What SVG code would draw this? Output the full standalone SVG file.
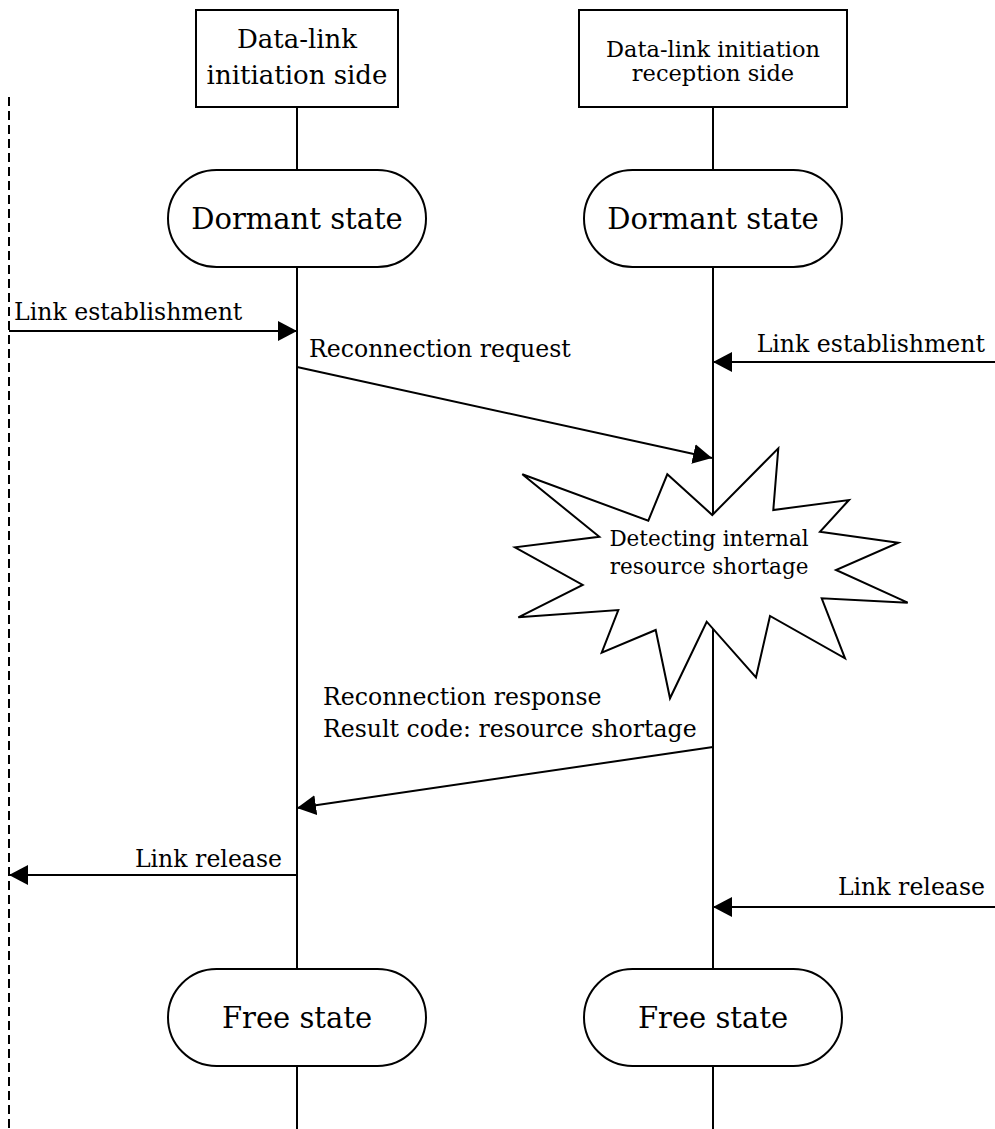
<svg xmlns="http://www.w3.org/2000/svg" width="995" height="1129" viewBox="0 0 995 1129">
  <style>
    .ln { stroke: #000; stroke-width: 2; fill: none; }
    .shape { stroke: #000; stroke-width: 2; fill: #fff; }
    .t { font-family: "DejaVu Serif", "Liberation Serif", serif; fill: #000; }
    .msg { font-size: 23.6px; }
    .state { font-size: 29px; text-anchor: middle; }
    .hdr { font-size: 26px; text-anchor: middle; }
    .hdr2 { font-size: 22.5px; text-anchor: middle; }
    .burst { font-size: 21.5px; text-anchor: middle; }
  </style>
  <defs>
    <marker id="arrow" markerUnits="userSpaceOnUse" markerWidth="20" markerHeight="20" viewBox="0 0 20 20" refX="19" refY="10" orient="auto">
      <path d="M0,0 L19,10 L0,20 Z" fill="#000"/>
    </marker>
  </defs>

  <rect width="995" height="1129" fill="#fff"/>

  <!-- lifelines and external boundary -->
  <g id="lifelines">
    <line class="ln" x1="9" y1="97" x2="9" y2="1129" stroke-dasharray="9 5"/>
    <line class="ln" x1="297" y1="107" x2="297" y2="1129"/>
    <line class="ln" x1="713" y1="107" x2="713" y2="1129"/>
  </g>

  <g id="connectors">
    <line class="ln" x1="9" y1="331" x2="297" y2="331" marker-end="url(#arrow)"/>
    <line class="ln" x1="995" y1="362" x2="713" y2="362" marker-end="url(#arrow)"/>
    <line class="ln" x1="297" y1="367" x2="712" y2="458" marker-end="url(#arrow)"/>
    <line class="ln" x1="713" y1="747" x2="297" y2="808" marker-end="url(#arrow)"/>
    <line class="ln" x1="297" y1="875" x2="9" y2="875" marker-end="url(#arrow)"/>
    <line class="ln" x1="995" y1="907" x2="713" y2="907" marker-end="url(#arrow)"/>
  </g>

  <g id="connector-labels">
    <text class="t msg" x="14" y="320">Link establishment</text>
    <text class="t msg" x="985" y="352" text-anchor="end">Link establishment</text>
    <text class="t msg" x="309" y="357">Reconnection request</text>
    <text class="t msg" x="323" y="705">Reconnection response</text>
    <text class="t msg" x="323" y="737">Result code: resource shortage</text>
    <text class="t msg" x="282" y="867" text-anchor="end">Link release</text>
    <text class="t msg" x="985" y="895" text-anchor="end">Link release</text>
  </g>

  <g id="initiator">
    <rect class="shape" x="196" y="10" width="202" height="97"/>
    <text class="t hdr" x="297" y="48">Data-link</text>
    <text class="t hdr" x="297" y="84">initiation side</text>
  </g>

  <g id="receiver">
    <rect class="shape" x="579" y="10" width="268" height="97"/>
    <text class="t hdr2" x="713" y="57">Data-link initiation</text>
    <text class="t hdr2" x="713" y="81">reception side</text>
  </g>

  <g id="dormant-initiator">
    <rect class="shape" x="168" y="170" width="258" height="97" rx="48.5" ry="48.5"/>
    <text class="t state" x="297" y="229">Dormant state</text>
  </g>

  <g id="dormant-receiver">
    <rect class="shape" x="584" y="170" width="258" height="97" rx="48.5" ry="48.5"/>
    <text class="t state" x="713" y="229">Dormant state</text>
  </g>

  <g id="resource-shortage">
    <polygon class="shape" points="712.3,515 778.3,448.3 773.3,510 849,500 820,531.7 898.3,542.7 836,570 907.7,602.7 821.7,598.3 845,658.3 770,616 756,677.3 706.7,621.7 670,698.3 655.7,630 601.7,652.7 618.3,610 518.3,617.3 582.7,585 515,547.3 599.3,536.7 522.3,474.3 648.3,520.7 667.3,474.3"/>
    <text class="t burst" x="709" y="546">Detecting internal</text>
    <text class="t burst" x="709" y="574">resource shortage</text>
  </g>

  <g id="free-initiator">
    <rect class="shape" x="168" y="969" width="258" height="97" rx="48.5" ry="48.5"/>
    <text class="t state" x="297" y="1028">Free state</text>
  </g>

  <g id="free-receiver">
    <rect class="shape" x="584" y="969" width="258" height="97" rx="48.5" ry="48.5"/>
    <text class="t state" x="713" y="1028">Free state</text>
  </g>
</svg>
